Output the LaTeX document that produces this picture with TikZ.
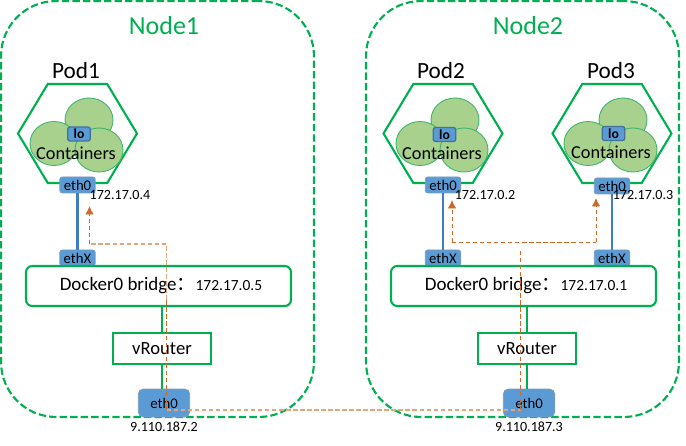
\documentclass[tikz,border=0pt]{standalone}
\usepackage{fontspec}
\setmainfont{Carlito}
\newfontfamily\cjkfont{Noto Sans CJK SC}
\usepackage{tikz}
\usetikzlibrary{shapes,arrows.meta,positioning}
\definecolor{nodegreen}{HTML}{00B050}
\definecolor{ctrgreen}{HTML}{A9D18E}
\definecolor{ctredge}{HTML}{3DB56B}
\definecolor{ifblue}{HTML}{5B9BD5}
\definecolor{ifedge}{HTML}{41719C}
\definecolor{wireblue}{HTML}{3F7FBF}
\definecolor{flowdark}{HTML}{CF6A28}
\definecolor{flowfaint}{HTML}{E3A57C}

\begin{document}
\begin{tikzpicture}[
    x=0.02cm, y=-0.02cm,
    hostbox/.style={rectangle, draw=nodegreen, dashed, dash pattern=on 4.2pt off 1.8pt, line width=1.2pt, rounded corners=1.1cm, minimum width=6.26cm, minimum height=8.32cm},
    hostlabel/.style={text=nodegreen, font=\fontsize{14.8}{16}\selectfont},
    podlabel/.style={font=\fontsize{13.2}{15}\selectfont},
    podhex/.style={regular polygon, regular polygon sides=6, draw=nodegreen, line width=1.2pt, minimum size=2.38cm, inner sep=0pt, yscale=0.96, transform shape},
    ctr/.style={ellipse, draw=ctredge, fill=ctrgreen, line width=0.5pt, minimum width=0.96cm, minimum height=0.88cm, inner sep=0pt},
    ctrtext/.style={font=\fontsize{10.4}{12}\selectfont, inner sep=0pt},
    loif/.style={rectangle, draw=ifedge, fill=ifblue, line width=0.7pt, rounded corners=1.2pt, minimum width=0.45cm, minimum height=0.28cm, inner sep=0pt, font=\bfseries\fontsize{7.8}{9}\selectfont},
    podif/.style={rectangle, draw=ifedge!70, fill=ifblue, line width=0.5pt, rounded corners=1.5pt, minimum width=0.71cm, minimum height=0.32cm, inner sep=0pt, font=\fontsize{8.4}{9}\selectfont},
    hostif/.style={rectangle, draw=ifedge!70, fill=ifblue, line width=0.5pt, rounded corners=3pt, minimum width=1.03cm, minimum height=0.56cm, inner sep=0pt, font=\fontsize{8.4}{9}\selectfont},
    addr/.style={font=\fontsize{8}{9}\selectfont, inner sep=0pt},
    bridge/.style={rectangle, draw=nodegreen, line width=1.2pt, rounded corners=3.5pt, minimum width=5.3cm, minimum height=0.8cm},
    bridgetext/.style={inner sep=0pt, font=\fontsize{10.8}{13}\selectfont},
    router/.style={rectangle, draw=nodegreen, line width=1.2pt, minimum width=1.96cm, minimum height=0.62cm, font=\fontsize{10.6}{12}\selectfont},
    wire/.style={draw=wireblue, line width=1.2pt},
    link/.style={draw=nodegreen, line width=1.2pt},
    flow/.style={draw=flowdark, dashed, dash pattern=on 2.4pt off 1.6pt, line width=0.5pt},
    flowlight/.style={draw=flowfaint, dashed, dash pattern=on 2.6pt off 1.4pt, line width=0.7pt},
    flowarrow/.style={flow, -{Latex[length=0.17cm,width=0.17cm]}}
]
\useasboundingbox (0,0) rectangle (686,446);

% Node1
\node[hostbox] (host1) at (157.5,209) {};
\node[hostlabel] (host1txt) at (164,26) {Node1};

% Node2
\node[hostbox] (host2) at (522.5,209) {};
\node[hostlabel] (host2txt) at (528,26) {Node2};

% Pod1
\node[podlabel] (pod1txt) at (76,71) {Pod1};
\node[podhex] (hex1) at (77.5,133.5) {};
\node[ctr] (c1b) at (89,120) {};
\node[ctr] (c1a) at (54,143.5) {};
\node[ctr] (c1c) at (99,150) {};
\node[loif] (lo1) at (79,134) {lo};
\node[ctrtext] (c1txt) at (76,153) {Containers};
\node[podif, below of=hex1, node distance=1.03cm] (eth1) {eth0};
\node[addr] (ip1) at (120,195) {172.17.0.4};
\node[podif, below of=eth1, node distance=1.46cm] (ethx1) {ethX};

% Pod2
\node[podlabel] (pod2txt) at (441,71) {Pod2};
\node[podhex] (hex2) at (443,133.5) {};
\node[ctr] (c2b) at (455,120) {};
\node[ctr] (c2a) at (420,143.5) {};
\node[ctr] (c2c) at (464,150) {};
\node[loif] (lo2) at (444.5,134.5) {lo};
\node[ctrtext] (c2txt) at (442,153) {Containers};
\node[podif, below of=hex2, node distance=1.03cm] (eth2) {eth0};
\node[addr] (ip2) at (485,195) {172.17.0.2};
\node[podif, below of=eth2, node distance=1.46cm] (ethx2) {ethX};

% Pod3
\node[podlabel] (pod3txt) at (611,71) {Pod3};
\node[podhex] (hex3) at (612,133.5) {};
\node[ctr] (c3b) at (623,120) {};
\node[ctr] (c3a) at (588,143.5) {};
\node[ctr] (c3c) at (633,150) {};
\node[loif] (lo3) at (613.5,133.5) {lo};
\node[ctrtext] (c3txt) at (611,152) {Containers};
\node[podif, below of=hex3, node distance=1.05cm] (eth3) {eth0};
\node[addr] (ip3) at (643,195) {172.17.0.3};
\node[podif, below of=eth3, node distance=1.44cm] (ethx3) {ethX};

% Bridges
\node[bridge] (br1) at (158.5,286) {};
\node[bridgetext, right of=br1, node distance=0.05cm] (br1txt) {Docker0 bridge{\cjkfont：}\fontsize{8.8}{10}\selectfont 172.17.0.5};
\node[bridge] (br2) at (523.5,286) {};
\node[bridgetext, right of=br2, node distance=0.05cm] (br2txt) {Docker0 bridge{\cjkfont：}\fontsize{8.8}{10}\selectfont 172.17.0.1};

% Routers
\node[router] (vr1) at (162,348.5) {vRouter};
\node[router] (vr2) at (527,348.5) {vRouter};

% Host interfaces
\node[hostif] (heth1) at (164,403) {eth0};
\node[addr, below of=heth1, node distance=0.48cm] (hip1) {9.110.187.2};
\node[hostif] (heth2) at (529,403) {eth0};
\node[addr, below of=heth2, node distance=0.48cm] (hip2) {9.110.187.3};

% Wires
\draw[wire] (eth1) -- (ethx1);
\draw[wire] (eth2) -- (ethx2);
\draw[wire] (eth3) -- (ethx3);
\draw[link] (vr1.north |- br1.south) -- (vr1.north);
\draw[link] (vr1.south) -- (vr1.south |- heth1.north);
\draw[link] (vr2.north |- br2.south) -- (vr2.north);
\draw[link] (vr2.south) -- (vr2.south |- heth2.north);

% Traffic path
\coordinate (f1a) at (166.5,410);
\coordinate (f1b) at (166.5,300);
\coordinate (f1c) at (166.5,244);
\coordinate (f1d) at (89.5,244);
\coordinate (f1e) at (89.5,206);
\coordinate (f2a) at (520.5,410);
\coordinate (f2b) at (520.5,250);
\coordinate (f2c) at (452,242);
\coordinate (f2d) at (596,242);
\coordinate (f2e) at (452,200);
\coordinate (f2f) at (596,198);
\draw[flow] (f1a) -- (f1b);
\draw[flowlight] (f1b) -- (f1c) -- (f1d);
\draw[flowarrow] (f1d) -- (f1e);
\draw[flowlight] (f1a) -- (f2a);
\draw[flow] (f2a) -- (f2b);
\draw[flow] (f2c) -- (f2d);
\draw[flowarrow] (f2c) -- (f2e);
\draw[flowarrow] (f2d) -- (f2f);

\end{tikzpicture}
\end{document}
